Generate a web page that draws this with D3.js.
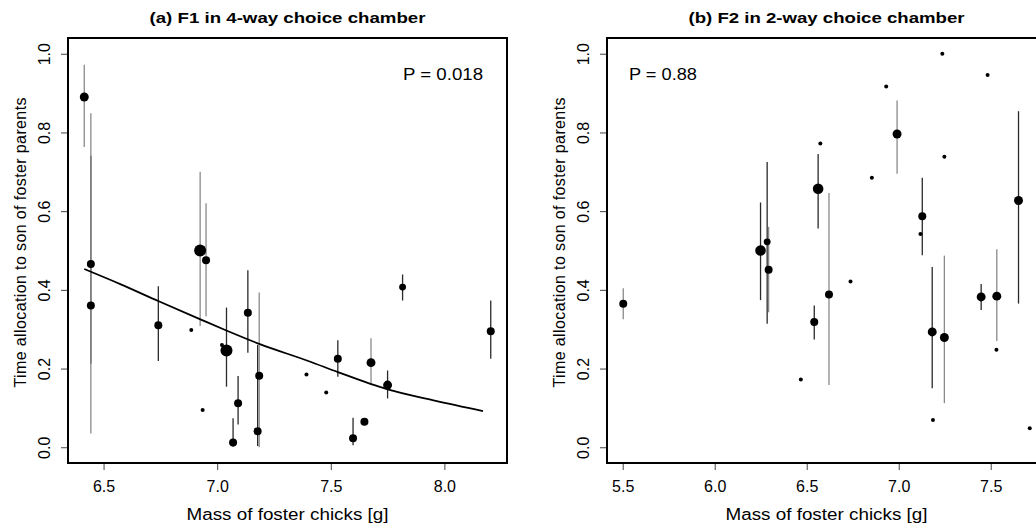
<!DOCTYPE html>
<html>
<head>
<meta charset="utf-8">
<script src="https://cdn.jsdelivr.net/npm/d3@7"></script>
<style>
  html, body { margin: 0; padding: 0; background: #fff; }
  svg { display: block; }
  text { font-family: "Liberation Sans", Arial, Helvetica, sans-serif; fill: #000; }
</style>
</head>
<body>
<svg id="chart" width="1036" height="525"></svg>
<script>
// ---------- Data ----------
// Panel (a): F1 in 4-way choice chamber
const massA = [6.415, 6.444, 6.444, 6.925, 6.951, 6.741, 6.886, 6.936, 7.021, 7.041, 7.092, 7.070,
               7.135, 7.185, 7.178, 7.393, 7.480, 7.531, 7.677, 7.750, 7.816, 7.648, 7.598, 8.204];
const timeA = [0.890, 0.466, 0.360, 0.500, 0.475, 0.310, 0.298, 0.095, 0.260, 0.246, 0.112, 0.012,
               0.342, 0.182, 0.041, 0.185, 0.139, 0.225, 0.215, 0.158, 0.407, 0.065, 0.023, 0.295];
const lowA  = [0.763, 0.212, 0.035, 0.308, 0.333, 0.219, null, null, null, 0.154, 0.058, 0.001,
               0.240, 0.000, 0.003, null, null, 0.179, 0.158, 0.124, 0.373, null, 0.005, 0.225];
const highA = [0.972, 0.741, 0.849, 0.700, 0.620, 0.409, null, null, null, 0.355, 0.181, 0.074,
               0.450, 0.393, 0.260, null, null, 0.272, 0.277, 0.195, 0.439, null, 0.075, 0.373];
const nA    = [5, 4, 4, 9, 4, 4, 1, 1, 1, 9, 4, 4, 4, 4, 4, 1, 1, 4, 5, 5, 3, 4, 4, 4];
const cohortA = ["B","A","B","B","B","A",null,null,null,"A","A","A","A","B","A",null,null,"A","B","A","A",null,"A","A"];
// fitted curve (a)
const fitMassA = [6.415, 6.576, 6.743, 6.926, 7.043, 7.188, 7.407, 7.531, 7.750, 7.962, 8.170];
const fitTimeA = [0.453, 0.414, 0.371, 0.325, 0.296, 0.262, 0.218, 0.191, 0.147, 0.118, 0.092];

// Panel (b): F2 in 2-way choice chamber
const massB = [5.503, 6.249, 6.285, 6.293, 6.562, 6.574, 6.541, 6.468, 6.621, 6.738, 6.854, 6.932, 6.991,
               7.128, 7.118, 7.237, 7.248, 7.182, 7.248, 7.186, 7.483, 7.448, 7.533, 7.531, 7.651, 7.712];
const timeB = [0.365, 0.500, 0.522, 0.451, 0.657, 0.772, 0.318, 0.172, 0.388, 0.421, 0.685, 0.917, 0.796,
               0.587, 0.542, 1.000, 0.738, 0.293, 0.279, 0.069, 0.946, 0.382, 0.384, 0.248, 0.627, 0.048];
const lowB  = [0.325, 0.374, 0.314, 0.343, 0.556, null, 0.274, null, 0.158, null, null, null, 0.695,
               0.488, null, null, null, 0.150, 0.112, null, null, 0.349, 0.270, null, 0.365, null];
const highB = [0.404, 0.622, 0.725, 0.560, 0.745, null, 0.360, null, 0.646, null, null, null, 0.881,
               0.685, null, null, null, 0.458, 0.487, null, null, 0.415, 0.503, null, 0.854, null];
const nB    = [4, 7, 3, 4, 7, 1, 4, 1, 4, 1, 1, 1, 5, 4, 1, 1, 1, 5, 5, 1, 1, 5, 5, 1, 5, 1];
const cohortB = ["B","A","A","B","A",null,"A",null,"B",null,null,null,"B","A",null,null,null,"A","B",null,null,"A","B",null,"A",null];

const xTicksA = [6.5, 7.0, 7.5, 8.0];
const xTicksB = [5.5, 6.0, 6.5, 7.0, 7.5];
const yTicks  = [0, 0.2, 0.4, 0.6, 0.8, 1.0];
const titles  = ["(a) F1 in 4-way choice chamber", "(b) F2 in 2-way choice chamber"];
const pLabels = ["P = 0.018", "P = 0.88"];
const xLabel  = "Mass of foster chicks [g]";
const yLabel  = "Time allocation to son of foster parents";

// ---------- Drawing ----------
const svg = d3.select("#chart");
const plotW = 439, plotH = 425, plotTop = 38;
const panels = [
  { left: 68,  mass: massA, time: timeA, low: lowA, high: highA, n: nA, cohort: cohortA, xt: xTicksA,
    title: titles[0], p: pLabels[0], pX: 403, pLen: 80, fit: true },
  { left: 607, mass: massB, time: timeB, low: lowB, high: highB, n: nB, cohort: cohortB, xt: xTicksB,
    title: titles[1], p: pLabels[1], pX: 629, pLen: 68, fit: false }
];

const rScale = d3.scaleSqrt().domain([0, 9]).range([0, 6]);
const barColor = d3.scaleOrdinal().domain(["A", "B"]).range(["#2a2a2a", "#8a8a8a"]);
const fmt = d3.format(".1f");

panels.forEach(P => {
  const ext = d3.extent(P.mass);
  const pad = (ext[1] - ext[0]) * 0.04;
  const x = d3.scaleLinear().domain([ext[0] - pad, ext[1] + pad]).range([P.left, P.left + plotW]);
  const y = d3.scaleLinear().domain([-0.04, 1.04]).range([plotTop + plotH, plotTop]);

  const g = svg.append("g");
  const pts = P.mass.map((m, i) => ({ m, t: P.time[i], lo: P.low[i], hi: P.high[i], n: P.n[i], c: P.cohort[i] }));

  // error bars
  g.selectAll("line.err").data(pts.filter(d => d.lo !== null)).join("line")
    .attr("class", "err")
    .attr("x1", d => x(d.m)).attr("x2", d => x(d.m))
    .attr("y1", d => y(d.lo)).attr("y2", d => y(d.hi))
    .attr("stroke", d => barColor(d.c)).attr("stroke-width", 1.3);

  // fitted curve
  if (P.fit) {
    const line = d3.line().x(d => x(d[0])).y(d => y(d[1])).curve(d3.curveMonotoneX);
    g.append("path").datum(fitMassA.map((m, i) => [m, fitTimeA[i]]))
      .attr("d", line).attr("fill", "none").attr("stroke", "#000").attr("stroke-width", 1.8);
  }

  // points
  g.selectAll("circle").data(pts).join("circle")
    .attr("cx", d => x(d.m)).attr("cy", d => y(d.t)).attr("r", d => rScale(d.n)).attr("fill", "#000");

  // axes
  const xAxis = d3.axisBottom(x).tickValues(P.xt).tickFormat(fmt).tickSize(7).tickSizeOuter(0).tickPadding(11);
  const gx = g.append("g").attr("transform", `translate(0,${plotTop + plotH})`).call(xAxis);
  gx.select(".domain").remove();
  gx.selectAll("line").attr("stroke", "#444");
  gx.selectAll("text").attr("font-size", 16).attr("font-family", null);

  const yAxis = d3.axisLeft(y).tickValues(yTicks).tickFormat(fmt).tickSize(7).tickSizeOuter(0);
  const gy = g.append("g").attr("transform", `translate(${P.left},0)`).call(yAxis);
  gy.select(".domain").remove();
  gy.selectAll("line").attr("stroke", "#444");
  gy.selectAll("text").attr("font-size", 16).attr("font-family", null)
    .attr("transform", "rotate(-90)").attr("x", 0).attr("y", -18).attr("dy", 0)
    .attr("text-anchor", "middle");

  // box
  g.append("rect").attr("x", P.left).attr("y", plotTop).attr("width", plotW).attr("height", plotH)
    .attr("fill", "none").attr("stroke", "#000").attr("stroke-width", 2);

  // titles and labels
  const cx = P.left + plotW / 2;
  g.append("text").attr("x", cx).attr("y", 23).attr("text-anchor", "middle")
    .attr("font-size", 14.5).attr("font-weight", "bold")
    .attr("textLength", 276).attr("lengthAdjust", "spacingAndGlyphs").text(P.title);
  g.append("text").attr("x", cx).attr("y", 520).attr("text-anchor", "middle")
    .attr("font-size", 16).attr("textLength", 202).attr("lengthAdjust", "spacingAndGlyphs").text(xLabel);
  g.append("text").attr("transform", `translate(${P.left - 42},${plotTop + plotH / 2 - 8}) rotate(-90)`)
    .attr("text-anchor", "middle").attr("font-size", 16)
    .attr("textLength", 290).attr("lengthAdjust", "spacing").text(yLabel);
  g.append("text").attr("x", P.pX).attr("y", 80).attr("font-size", 16)
    .attr("textLength", P.pLen).attr("lengthAdjust", "spacingAndGlyphs").text(P.p);
});
</script>
</body>
</html>
